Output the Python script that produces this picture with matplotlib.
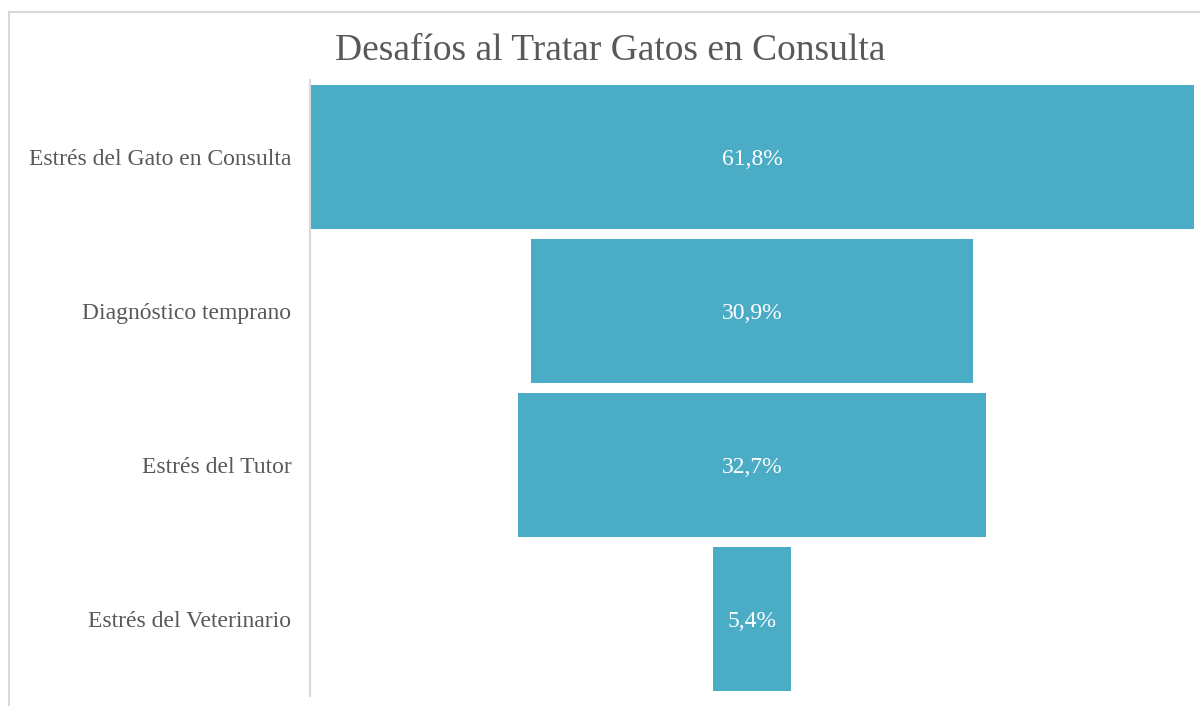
import matplotlib.pyplot as plt
from matplotlib.patches import Rectangle

categorias = ['Estrés del Gato en Consulta', 'Diagnóstico temprano', 'Estrés del Tutor', 'Estrés del Veterinario']
valores = [61.8, 30.9, 32.7, 5.4]
etiquetas = ['61,8%', '30,9%', '32,7%', '5,4%']

plt.rcParams['font.family'] = ['Liberation Serif', 'DejaVu Serif']
gris = '#595959'
azul = '#4BACC6'

W, H = 1200, 706
fig = plt.figure(figsize=(12, 7.06), dpi=100)

# marco del grafico (cortado a la derecha y abajo)
fig.patches.append(Rectangle((9 / W, -0.1), 1.2, 1 - 12 / H + 0.1, transform=fig.transFigure,
                             fill=False, edgecolor='#D9D9D9', linewidth=1.5))

ax = fig.add_axes([310 / W, 1 - 696 / H, (1194 - 310) / W, (696 - 80) / H])
y = list(range(len(categorias)))
izq = [-v / 2 for v in valores]
ax.barh(y, valores, left=izq, height=0.935, color=azul)
for yi, txt in zip(y, etiquetas):
    ax.text(0, yi, txt, ha='center', va='center_baseline', color='white', fontsize=17)

ax.set_xlim(-max(valores) / 2, max(valores) / 2)
ax.set_ylim(len(categorias) - 0.5, -0.5)
ax.set_yticks(y)
ax.set_yticklabels(categorias, fontsize=17, color=gris, va='center_baseline')
ax.tick_params(axis='y', length=0, pad=13.5)
ax.set_xticks([])
for s in ['top', 'right', 'bottom']:
    ax.spines[s].set_visible(False)
ax.spines['left'].set_color('#D9D9D9')
ax.spines['left'].set_linewidth(1.5)

fig.text(610 / W, 1 - 60 / H, 'Desafíos al Tratar Gatos en Consulta', ha='center', va='baseline',
         fontsize=27, color=gris)

fig.savefig('out.png', dpi=100)
